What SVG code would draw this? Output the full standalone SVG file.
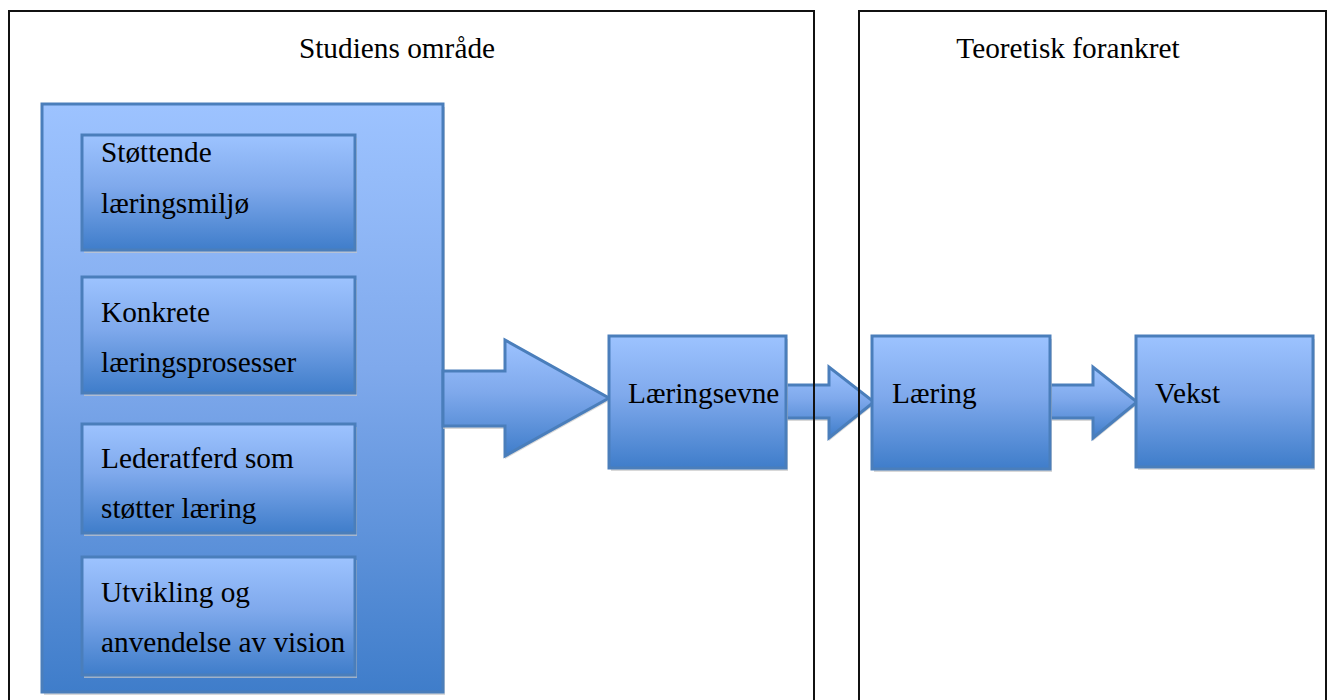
<svg xmlns="http://www.w3.org/2000/svg" width="1328" height="700" viewBox="0 0 1328 700">
  <defs>
    <linearGradient id="blueFill" x1="0" y1="0" x2="0" y2="1">
      <stop offset="0" stop-color="#9dc3ff"/>
      <stop offset="0.45" stop-color="#7fa9ec"/>
      <stop offset="1" stop-color="#3f7dca"/>
    </linearGradient>
    <style>
      .frame { fill: none; stroke: #111; stroke-width: 2; }
      .box { fill: url(#blueFill); stroke: #4a7ebb; stroke-width: 3; }
      .shadow { fill: #c8c8c8; opacity: 0.7; }
      .label { font-family: "Liberation Serif", "Times New Roman", serif; font-size: 29.3px; fill: #000; }
      .title { font-family: "Liberation Serif", "Times New Roman", serif; font-size: 29.3px; fill: #000; text-anchor: middle; }
    </style>
  </defs>

  <rect width="1328" height="700" fill="#fff"/>

  <!-- outer container with the four factors -->
  <g id="container">
    <rect class="shadow" x="44" y="107" width="401" height="588"/>
    <rect class="box" x="42" y="104" width="401" height="588"/>
  </g>

  <g id="node-stottende">
    <rect class="shadow" x="84" y="138" width="273" height="115"/>
    <rect class="box" x="82" y="135" width="273" height="115"/>
    <text class="label" x="101" y="162">Støttende</text>
    <text class="label" x="101" y="213">læringsmiljø</text>
  </g>

  <g id="node-konkrete">
    <rect class="shadow" x="84" y="280" width="273" height="116"/>
    <rect class="box" x="82" y="277" width="273" height="116"/>
    <text class="label" x="101" y="322">Konkrete</text>
    <text class="label" x="101" y="372">læringsprosesser</text>
  </g>

  <g id="node-lederatferd">
    <rect class="shadow" x="84" y="427" width="273" height="109"/>
    <rect class="box" x="82" y="424" width="273" height="109"/>
    <text class="label" x="101" y="468">Lederatferd som</text>
    <text class="label" x="101" y="518">støtter læring</text>
  </g>

  <g id="node-utvikling">
    <rect class="shadow" x="84" y="560" width="273" height="118"/>
    <rect class="box" x="82" y="557" width="273" height="118"/>
    <text class="label" x="101" y="602">Utvikling og</text>
    <text class="label" x="101" y="652">anvendelse av vision</text>
  </g>

  <!-- block arrows between the stages -->
  <g id="connectors">
    <path class="shadow" d="M443,374 L505,374 L505,343 L609,401 L505,459 L505,429 L443,429 Z"/>
    <path class="box" d="M443,371 L505,371 L505,340 L609,398 L505,456 L505,426 L443,426 Z"/>

    <path class="shadow" d="M786,388 L829,388 L829,370 L874,405 L829,441 L829,421 L786,421 Z"/>
    <path class="box" d="M786,385 L829,385 L829,367 L874,402 L829,438 L829,418 L786,418 Z"/>

    <path class="shadow" d="M1050,388 L1093,388 L1093,370 L1137,405 L1093,441 L1093,421 L1050,421 Z"/>
    <path class="box" d="M1050,385 L1093,385 L1093,367 L1137,402 L1093,438 L1093,418 L1050,418 Z"/>
  </g>

  <g id="node-laeringsevne">
    <rect class="shadow" x="611" y="339" width="177" height="132"/>
    <rect class="box" x="609" y="336" width="177" height="132"/>
    <text class="label" x="628" y="403">Læringsevne</text>
  </g>

  <g id="node-laering">
    <rect class="shadow" x="874" y="339" width="178" height="133"/>
    <rect class="box" x="872" y="336" width="178" height="133"/>
    <text class="label" x="892" y="403">Læring</text>
  </g>

  <g id="node-vekst">
    <rect class="shadow" x="1138" y="339" width="177" height="131"/>
    <rect class="box" x="1136" y="336" width="177" height="131"/>
    <text class="label" x="1155" y="403">Vekst</text>
  </g>

  <!-- section frames, drawn above the arrows -->
  <g id="frame-studiens">
    <path class="frame" d="M9,702 L9,11 L814,11 L814,702"/>
    <text class="title" x="397" y="58">Studiens område</text>
  </g>
  <g id="frame-teoretisk">
    <path class="frame" d="M859,702 L859,11 L1326,11 L1326,702"/>
    <text class="title" x="1068" y="58">Teoretisk forankret</text>
  </g>
</svg>
